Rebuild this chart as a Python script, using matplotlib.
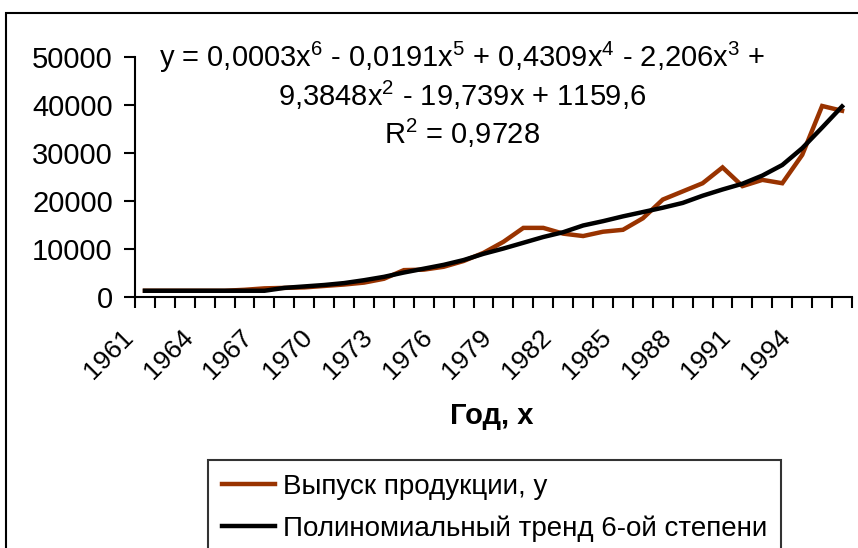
import matplotlib
matplotlib.use('Agg')
import matplotlib.pyplot as plt
from matplotlib.patches import Rectangle
from matplotlib.transforms import ScaledTranslation
import numpy as np

plt.rcParams['font.family'] = ['Liberation Sans', 'DejaVu Sans']

years = list(range(1961, 1997))
output = [1300, 1300, 1300, 1300, 1300, 1500, 1800, 1900, 2000, 2300,
          2600, 3000, 3800, 5600, 5700, 6300, 7500, 9200, 11500, 14400,
          14400, 13200, 12700, 13600, 14000, 16400, 20300, 22000, 23700, 27000,
          23100, 24400, 23700, 29600, 39800, 38800]
trend = [1300, 1300, 1300, 1300, 1300, 1300, 1300, 1900, 2200, 2500,
         2900, 3500, 4200, 5100, 5900, 6700, 7700, 9000, 10100, 11300,
         12500, 13500, 14900, 15800, 16800, 17700, 18600, 19600, 21100, 22400,
         23600, 25300, 27500, 31000, 35300, 39700]
yticks = [0, 10000, 20000, 30000, 40000, 50000]
eq_lines = [r'y = 0,0003x$^\mathregular{6}$ - 0,0191x$^\mathregular{5}$ + 0,4309x$^\mathregular{4}$ - 2,206x$^\mathregular{3}$ +',
            r'9,3848x$^\mathregular{2}$ - 19,739x + 1159,6',
            r'R$^\mathregular{2}$ = 0,9728']

W, H = 858, 548
fig = plt.figure(figsize=(W / 100, H / 100), dpi=100)
ax = fig.add_axes([135 / W, 1 - 297 / H, (852 - 135) / W, (297 - 57) / H])

# outer chart frame (cut by the image on the right and bottom)
fig.patches.append(Rectangle((6 / W, -0.05), 1.1, 1 - 13 / H + 0.05, transform=fig.transFigure,
                             fill=False, edgecolor='black', linewidth=1.5))

x = np.arange(len(years))
ax.plot(x, output, color='#993300', linewidth=3.2, label='Выпуск продукции, y', solid_joinstyle='miter')
ax.plot(x, trend, color='black', linewidth=3.2, label='Полиномиальный тренд 6-ой степени')

ax.set_xlim(-0.5, len(years) - 0.5)
ax.set_ylim(0, 50000)
ax.set_yticks(yticks)
ax.set_yticklabels([str(v) for v in yticks], fontsize=21)
ax.tick_params(axis='y', direction='out', length=8, width=1.5, pad=8)

ax.set_xticks(np.arange(-0.5, len(years), 1))
ax.set_xticklabels([])
ax.tick_params(axis='x', which='major', direction='out', length=8, width=1.5)
lab_idx = list(range(0, len(years), 3))
ax.set_xticks(lab_idx, minor=True)
ax.set_xticklabels([str(years[i]) for i in lab_idx], minor=True, fontsize=19,
                   rotation=45, ha='right', rotation_mode='anchor')
ax.tick_params(axis='x', which='minor', length=0, pad=20)
shift = ScaledTranslation(-0.24, 0, fig.dpi_scale_trans)
for lab in ax.get_xticklabels(minor=True):
    lab.set_transform(lab.get_transform() + shift)

for s in ['top', 'right']:
    ax.spines[s].set_visible(False)
for s in ['left', 'bottom']:
    ax.spines[s].set_linewidth(1.5)

ax.set_xlabel('Год, x', fontsize=21, fontweight='bold')
ax.xaxis.set_label_coords((492 - 135) / (852 - 135), -(402 - 297) / (297 - 57))

for txt, yp in zip(eq_lines, [57, 95, 133]):
    fig.text(462 / W, 1 - yp / H, txt, fontsize=21, ha='center', va='center')

leg = fig.legend(loc='upper left', bbox_to_anchor=(208 / W, 1 - 460 / H), fontsize=20,
                 frameon=True, fancybox=False, edgecolor='black', handlelength=1.9,
                 handletextpad=0.3, borderpad=0.5, labelspacing=0.55, borderaxespad=0)
leg.get_frame().set_linewidth(1.5)

fig.savefig('out.png', dpi=100)
